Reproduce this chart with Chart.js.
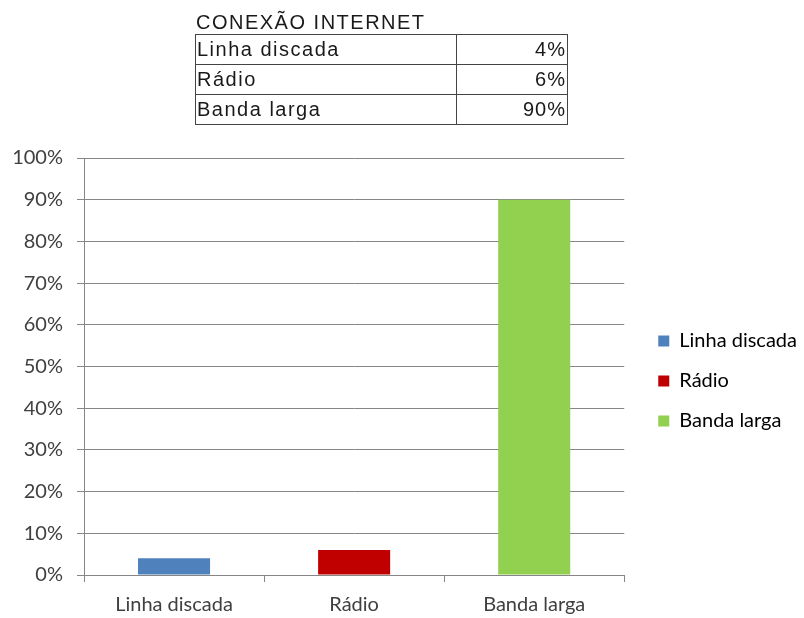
<!DOCTYPE html>
<html>
<head>
<meta charset="utf-8">
<script src="https://cdn.jsdelivr.net/npm/chart.js@4/dist/chart.umd.min.js"></script>
<style>
  html, body { margin: 0; padding: 0; background: #fff; }
  #wrap { position: relative; width: 804px; height: 618px; }
  #grafico { position: absolute; left: 0; top: 0; }
  #tabela {
    position: absolute; left: 195px; top: 10px;
    font-family: "Liberation Sans", Arial, sans-serif; font-size: 20px; color: #1a1a1a;
    letter-spacing: 1.5px;
  }
  #tabela .titulo { height: 24px; line-height: 24px; padding-left: 1px; }
  #tabela table { border-collapse: collapse; width: 373px; }
  #tabela td { border: 1px solid #444; height: 29px; padding: 0 1px; line-height: 29px; }
  #tabela td.val { text-align: right; width: 108px; letter-spacing: 1px; }
</style>
</head>
<body>
<div id="wrap">
  <canvas id="grafico" width="804" height="618"></canvas>
  <div id="tabela">
    <div class="titulo">CONEXÃO INTERNET</div>
    <table id="tab"></table>
  </div>
</div>
<script>
// tipos de conexão e percentuais
var categorias = ['Linha discada', 'Rádio', 'Banda larga'];
var valores = [4, 6, 90];
var cores = ['#4F81BD', '#C00000', '#92D050'];

// tabela de cima
var tab = document.getElementById('tab');
categorias.forEach(function (c, i) {
  var tr = document.createElement('tr');
  tr.innerHTML = '<td>' + c + '</td><td class="val">' + valores[i] + '%</td>';
  tab.appendChild(tr);
});

var fonte = { family: 'Lato', size: 20 };
var cinza = '#868686';

// afasta a legenda um pouco do gráfico e sobe ela
var ajusteLegenda = {
  id: 'ajusteLegenda',
  afterLayout: function (chart) {
    var l = chart.legend;
    l.left += 14; l.right += 14;
    l.top -= 7; l.bottom -= 7;
  }
};

var ctx = document.getElementById('grafico');
var grafico = new Chart(ctx, {
  type: 'bar',
  data: {
    labels: categorias,
    datasets: [{
      data: valores,
      backgroundColor: cores,
      barPercentage: 0.4,
      categoryPercentage: 1
    }]
  },
  plugins: [ajusteLegenda],
  options: {
    responsive: false,
    animation: false,
    layout: { padding: { top: 158, right: 11, bottom: 0, left: 0 } },
    plugins: {
      tooltip: { enabled: false },
      legend: {
        position: 'right',
        labels: {
          font: fonte,
          color: '#404040',
          boxWidth: 11,
          boxHeight: 11,
          padding: 20,
          generateLabels: function (chart) {
            return categorias.map(function (c, i) {
              return { text: c, fillStyle: cores[i], strokeStyle: cores[i], lineWidth: 0, index: i };
            });
          }
        }
      }
    },
    scales: {
      x: {
        afterFit: function (s) { s.height = 43; },
        grid: { drawOnChartArea: false, drawTicks: true, tickLength: 7, color: cinza, offset: true },
        border: { color: cinza },
        ticks: { font: fonte, color: '#404040', padding: 11 }
      },
      y: {
        min: 0,
        max: 100,
        afterFit: function (s) { s.width = 84; },
        grid: { color: cinza, tickLength: 7 },
        border: { color: cinza },
        ticks: {
          stepSize: 10,
          font: fonte,
          color: '#404040',
          padding: 14,
          callback: function (v) { return v + '%'; }
        }
      }
    }
  }
});
</script>
</body>
</html>
